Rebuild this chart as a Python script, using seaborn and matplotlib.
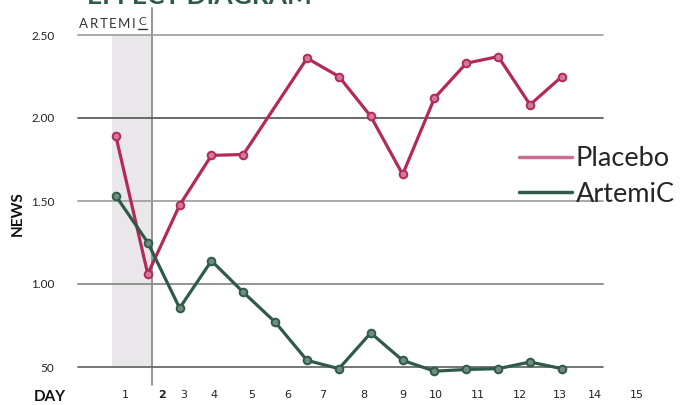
import seaborn as sns
import matplotlib.pyplot as plt
import pandas as pd
from matplotlib.lines import Line2D
from matplotlib.transforms import blended_transform_factory

# x values are visit index (0..14); day labels sit under the axis on their own
day_labels = [str(d) for d in range(1, 16)]
visit_artemic = list(range(15))
artemic = [1.53, 1.25, 0.855, 1.14, 0.95, 0.77, 0.54, 0.49, 0.705, 0.54,
           0.475, 0.485, 0.49, 0.53, 0.49]
visit_placebo = [0, 1, 2, 3, 4, 6, 7, 8, 9, 10, 11, 12, 13, 14]
placebo = [1.89, 1.06, 1.475, 1.775, 1.78, 2.36, 2.25, 2.01, 1.66, 2.12,
           2.33, 2.37, 2.08, 2.25]
yticks = [0.5, 1.0, 1.5, 2.0, 2.5]
ytick_labels = ['50', '1.00', '1.50', '2.00', '2.50']

# layout: where the day labels sit in visit units
day_label_pos = [0.28, 1.44, 2.13, 3.07, 4.27, 5.40, 6.5, 7.78, 9.0, 10.04,
                 11.36, 12.68, 13.94, 15.03, 16.35]

PINK = '#b32a5a'
GREEN = '#2f5a48'

df = pd.concat([
    pd.DataFrame({'visit': visit_placebo, 'news': placebo, 'group': 'Placebo'}),
    pd.DataFrame({'visit': visit_artemic, 'news': artemic, 'group': 'ArtemiC'}),
])

sns.set_style('white')
plt.rcParams['font.family'] = ['Lato', 'DejaVu Sans']

fig = plt.figure(figsize=(6.83, 4.05), dpi=100)
W, H = 683, 405
# axes spans 35px..385px; gridline 0.50 sits at 367px
ax = fig.add_axes([78 / W, 1 - 385 / H, 525 / W, 350 / H])
ax.set_xlim(-1.19, 15.29)
ax.set_ylim(0.5 - 18 / 166, 2.5)

# shaded baseline band and separator
band_bottom = 18 / 350
ax.axvspan(-0.125, 1.13, ymin=band_bottom, ymax=1, color='#e9e7e9', zorder=0, lw=0)
ax.axvline(1.13, ymin=0, ymax=1 + 27 / 350, color='#8c8c8c', lw=1.3,
           clip_on=False, zorder=1)

grid_colors = {0.5: '#6a6a6a', 1.0: '#8a8a8a', 1.5: '#a2a2a2', 2.0: '#5e5e5e', 2.5: '#a2a2a2'}
for v in yticks:
    ax.axhline(v, color=grid_colors[v], lw=1.3, clip_on=False, zorder=1)

sns.lineplot(data=df, x='visit', y='news', hue='group',
             palette={'Placebo': PINK, 'ArtemiC': GREEN},
             marker='o', markersize=5.5, markeredgewidth=1.4, lw=2.3,
             legend=False, ax=ax, zorder=3)
for line, ec, fc in zip(ax.lines[-2:], [PINK, GREEN], ['#d07a9a', '#6f8c7e']):
    line.set_markeredgecolor(ec)
    line.set_markerfacecolor(fc)

for s in ax.spines.values():
    s.set_visible(False)
ax.set_xticks([])
ax.set_yticks(yticks)
ax.set_yticklabels(ytick_labels, fontsize=8.5, color='#222222')
ax.tick_params(axis='y', length=0, pad=17)
ax.set_xlabel('')
ax.set_ylabel('')

trans = blended_transform_factory(ax.transData, fig.transFigure)
for pos, lab in zip(day_label_pos, day_labels):
    ax.text(pos, 1 - 395 / H, lab, transform=trans, ha='center', va='center',
            fontsize=8, color='#222222',
            family=['Liberation Sans Narrow', 'DejaVu Sans'],
            fontweight='bold' if lab == '2' else 'normal')

fig.text(50 / W, 1 - 397 / H, 'DAY', ha='center', va='center',
         fontsize=11, fontweight='bold', color='#111111')
fig.text(18 / W, 1 - 214 / H, 'NEWS', ha='center', va='center', rotation=90,
         fontsize=11, fontweight='bold', color='#111111')

fig.text(87 / W, 1 - 4 / H, 'EFFECT DIAGRAM', ha='left', va='baseline',
         fontsize=19, fontweight='bold', color='#2e5b47')
# spaced-out logo lettering
for ch, left in zip('ARTEMI', [79, 90, 99.5, 109, 118, 131.5]):
    fig.text(left / W, 1 - 28 / H, ch, ha='left', va='baseline',
             fontsize=9.5, color='#333333')
fig.text(138.5 / W, 1 - 25 / H, 'C', ha='left', va='baseline',
         fontsize=8.5, color='#333333')
fig.add_artist(Line2D([138 / W, 147 / W], [1 - 28.5 / H, 1 - 28.5 / H],
                      transform=fig.transFigure, color='#333333', lw=1))

handles = [Line2D([], [], color='#c96d92', lw=2.5),
           Line2D([], [], color=GREEN, lw=2.5)]
ax.legend(handles, ['Placebo', 'ArtemiC'], loc='upper left',
          bbox_to_anchor=(519 / W, 1 - 146 / H), bbox_transform=fig.transFigure,
          frameon=False, fontsize=19.5, handlelength=1.95, handletextpad=0.15,
          labelspacing=0.4, borderpad=0, borderaxespad=0)

fig.savefig('out.png', dpi=100)
